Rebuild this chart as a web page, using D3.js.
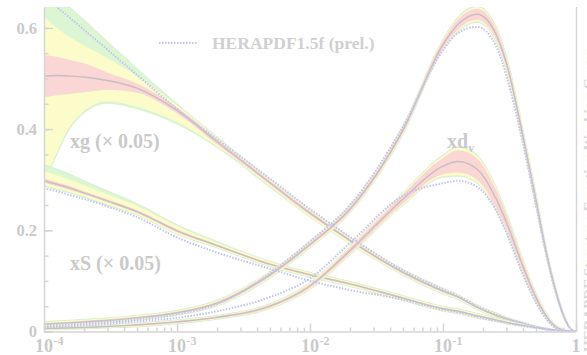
<!DOCTYPE html>
<html><head><meta charset="utf-8">
<script src="https://cdn.jsdelivr.net/npm/d3@7"></script>
<style>html,body{margin:0;padding:0;background:#fff;overflow:hidden}
text{font-family:"Liberation Serif","Times New Roman",serif;font-weight:bold}</style>
</head><body><svg id="c" width="587" height="355"></svg>
<script>
// x grid
const X = [1e-4,1.25e-4,1.5e-4,2e-4,3e-4,5e-4,1e-3,2e-3,5e-3,0.01,0.02,0.05,0.1,0.13,0.18,0.25,0.3,0.4,0.5,0.6,0.7,0.8,0.9,0.95,1];
// xu_v
const uvC   = [.015,.016,.017,.019,.022,.027,.037,.056,.112,.172,.242,.398,.567,.607,.627,.588,.53,.385,.26,.155,.083,.034,.007,.0015,0];
const uvExp = [.002,.002,.002,.002,.002,.002,.002,.003,.004,.004,.005,.006,.008,.010,.011,.011,.010,.010,.009,.007,.005,.003,.001,0,0];
const uvMod = [.002,.002,.002,.002,.002,.002,.002,.002,.002,.002,.002,.002,.002,.003,.003,.003,.003,.003,.003,.002,.002,.001,.001,0,0];
const uvPar = [.001,.001,.001,.001,.001,.001,.001,.001,.001,.001,.001,.001,.001,.002,.002,.002,.002,.002,.002,.001,.001,.001,0,0,0];
const uvDot = [.012,.013,.014,.016,.019,.024,.034,.054,.115,.178,.25,.405,.556,.59,.602,.565,.505,.37,.25,.15,.08,.033,.007,.0015,0];
// xd_v
const dvC   = [.006,.0065,.007,.008,.010,.013,.019,.028,.05,.09,.16,.262,.327,.336,.321,.263,.216,.128,.067,.03,.01,.003,.0005,.0001,0];
const dvExp = [.001,.001,.001,.001,.001,.002,.002,.002,.003,.004,.006,.009,.016,.022,.021,.018,.015,.011,.007,.004,.002,.001,0,0,0];
const dvMod = [.001,.001,.001,.001,.001,.001,.001,.001,.001,.002,.002,.003,.004,.005,.005,.004,.003,.003,.002,.002,.001,.001,0,0,0];
const dvPar = [.001,.001,.001,.001,.001,.001,.001,.001,.001,.001,.001,.001,.002,.002,.002,.002,.002,.001,.001,.001,.001,0,0,0,0];
const dvDot = [.009,.0095,.01,.012,.015,.02,.027,.04,.068,.105,.175,.268,.293,.298,.286,.24,.195,.112,.057,.024,.007,.002,.0003,0,0];
// xS (x 0.05)
const sC     = [.298,.291,.285,.274,.258,.237,.199,.17,.133,.112,.094,.066,.045,.04,.031,.023,.018,.012,.008,.005,.003,.0015,.0005,.0002,0];
const sExp   = [.004,.004,.004,.003,.003,.003,.003,.002,.002,.002,.002,.002,.002,.002,.002,.001,.001,.001,.001,0,0,0,0,0,0];
const sModUp = [.015,.014,.013,.012,.01,.008,.006,.004,.003,.002,.002,.002,.002,.002,.002,.002,.002,.001,.001,.001,0,0,0,0,0];
const sModDn = [.005,.005,.004,.004,.004,.003,.003,.002,.002,.002,.002,.002,.002,.002,.002,.001,.001,.001,.001,0,0,0,0,0,0];
const sParUp = [.013,.012,.011,.009,.007,.005,.003,.002,.001,.001,.001,.001,.001,.001,.001,.001,.001,.001,0,0,0,0,0,0,0];
const sParDn = [.002,.002,.002,.002,.002,.001,.001,.001,.001,.001,.001,.001,.001,.001,.001,.001,.001,0,0,0,0,0,0,0,0];
const sDot   = [.283,.277,.271,.262,.247,.226,.186,.156,.124,.1,.082,.063,.043,.038,.029,.021,.017,.011,.007,.004,.002,.001,.0003,0,0];
// xg (x 0.05)
const gC     = [.505,.506,.505,.503,.496,.481,.437,.375,.294,.234,.18,.117,.08,.068,.048,.032,.025,.016,.009,.005,.0025,.001,.0003,.0001,0];
const gExpUp = [.041,.037,.033,.027,.016,.009,.006,.005,.004,.004,.003,.003,.003,.002,.002,.002,.002,.001,.001,.001,0,0,0,0,0];
const gExpDn = [.042,.039,.036,.03,.018,.009,.006,.005,.004,.004,.003,.003,.003,.002,.002,.002,.002,.001,.001,.001,0,0,0,0,0];
const gModUp = [.076,.057,.047,.035,.028,.015,.004,.003,.002,.002,.002,.002,.002,.002,.002,.002,.001,.001,.001,0,0,0,0,0,0];
const gModDn = [.169,.113,.072,.037,.023,.028,.017,.004,.003,.003,.003,.002,.002,.002,.002,.001,.001,.001,.001,0,0,0,0,0,0];
const gParUp = [.068,.065,.06,.051,.033,.015,.003,.002,.001,.001,.001,.001,.001,.001,.001,.001,.001,0,0,0,0,0,0,0,0];
const gParDn = [.004,.004,.004,.004,.004,.004,.004,.002,.002,.001,.001,.001,.001,.001,.001,.001,.001,0,0,0,0,0,0,0,0];
const gDot   = [.662,.641,.624,.596,.557,.507,.44,.38,.302,.242,.187,.121,.083,.07,.05,.034,.026,.017,.0095,.005,.0025,.001,.0003,.0001,0];

const yTicks = [0, 0.2, 0.4, 0.6];
const yMinor = d3.range(0, 0.64, 0.05);
const xMajor = [1e-4, 1e-3, 1e-2, 1e-1, 1];
const xMajorLabels = [["10","-4"],["10","-3"],["10","-2"],["10","-1"],["1",""]];
const legendLabel = "HERAPDF1.5f (prel.)";
const sideLabel = "HERAPDF Structure Function Working Group";

const pdfs = [
  {c:gC, eu:gExpUp, ed:gExpDn, mu:gModUp, md:gModDn, pu:gParUp, pd:gParDn, dot:gDot},
  {c:sC, eu:sExp, ed:sExp, mu:sModUp, md:sModDn, pu:sParUp, pd:sParDn, dot:sDot},
  {c:dvC, eu:dvExp, ed:dvExp, mu:dvMod, md:dvMod, pu:dvPar, pd:dvPar, dot:dvDot},
  {c:uvC, eu:uvExp, ed:uvExp, mu:uvMod, md:uvMod, pu:uvPar, pd:uvPar, dot:uvDot}
];

const svg = d3.select("#c");
const L = 44, R = 576, T = 7, B = 331.5;
const xScale = d3.scaleLog().domain([1e-4, 1]).range([L, R]);
const yScale = d3.scaleLinear().domain([0, 0.6413]).range([B, T]);

svg.append("defs").append("clipPath").attr("id","pc").append("rect")
  .attr("x",L).attr("y",T).attr("width",R-L).attr("height",B-T);
const plot = svg.append("g").attr("clip-path","url(#pc)");

const idx = d3.range(X.length);
function band(lo, hi){
  return d3.area().curve(d3.curveMonotoneX)
    .x(i=>xScale(X[i])).y0(i=>yScale(lo(i))).y1(i=>yScale(hi(i)))(idx);
}
const lineOf = arr => d3.line().curve(d3.curveMonotoneX).x(i=>xScale(X[i])).y(i=>yScale(arr[i]))(idx);

pdfs.forEach(p=>{
  const eH=i=>p.c[i]+p.eu[i], eL=i=>p.c[i]-p.ed[i];
  const mH=i=>eH(i)+p.mu[i], mL=i=>eL(i)-p.md[i];
  const tH=i=>mH(i)+p.pu[i], tL=i=>mL(i)-p.pd[i];
  plot.append("path").attr("d",band(tL,tH)).attr("fill","#dcf5d2").attr("stroke","#d2efc6").attr("stroke-width",0.8);
  plot.append("path").attr("d",band(mL,mH)).attr("fill","#fcfccb");
  plot.append("path").attr("d",band(eL,eH)).attr("fill","#fad6d4");
  plot.append("path").attr("d",lineOf(p.c)).attr("fill","none").attr("stroke","#c9bec2").attr("stroke-width",1.4);
});
const dotCol = "#c2c2f6";
pdfs.forEach(p=>{
  plot.append("path").attr("d",lineOf(p.dot)).attr("fill","none").attr("stroke",dotCol)
    .attr("stroke-width",2).attr("stroke-dasharray","1.5,1.5");
});

const axCol = "#d5d5d5", txCol = "#cacaca";
// y axis
const yAx = svg.append("g").attr("transform",`translate(${L},0)`)
  .call(d3.axisLeft(yScale).tickValues(yTicks).tickSizeInner(-9).tickSizeOuter(0).tickPadding(7)
    .tickFormat(d=>d===0?"0":d3.format(".1f")(d)));
svg.append("g").attr("transform",`translate(${L},0)`)
  .call(d3.axisLeft(yScale).tickValues(yMinor).tickSizeInner(-4.5).tickSizeOuter(0).tickFormat(""))
  .call(g=>g.select(".domain").remove());
// x axis
svg.append("g").attr("transform",`translate(0,${B})`)
  .call(d3.axisBottom(xScale).tickValues(xMajor).tickSizeInner(-8).tickSizeOuter(0).tickFormat(""));
const xMinor = [];
for (let e=-4;e<0;e++) for (let k=2;k<=9;k++) xMinor.push(k*Math.pow(10,e));
svg.append("g").attr("transform",`translate(0,${B})`)
  .call(d3.axisBottom(xScale).tickValues(xMinor).tickSizeInner(-4).tickSizeOuter(0).tickFormat(""))
  .call(g=>g.select(".domain").remove());
svg.selectAll(".domain,.tick line").attr("stroke",axCol).attr("stroke-width",1.5);
yAx.selectAll("text").attr("fill",txCol).attr("font-size",16.5).attr("font-family","Liberation Serif").attr("font-weight","bold");

xMajor.forEach((v,i)=>{
  svg.append("text").attr("x",xScale(v)).attr("y",352).attr("text-anchor","middle")
    .attr("fill",txCol).attr("font-size",18).text(xMajorLabels[i][0]);
  if (xMajorLabels[i][1]) svg.append("text").attr("x",xScale(v)+9.5).attr("y",345).attr("fill",txCol)
    .attr("font-size",12).text(xMajorLabels[i][1]);
});
// right frame
svg.append("line").attr("x1",R+0.5).attr("x2",R+0.5).attr("y1",T).attr("y2",B).attr("stroke",axCol).attr("stroke-width",1.5);

// legend
svg.append("line").attr("x1",159).attr("x2",198).attr("y1",43).attr("y2",43)
  .attr("stroke",dotCol).attr("stroke-width",2).attr("stroke-dasharray","1.5,1.5");
svg.append("text").attr("x",212).attr("y",49).attr("fill","#d0d0d0").attr("font-size",17.5).text(legendLabel);

// labels
svg.append("text").attr("x",70).attr("y",148).attr("fill",txCol).attr("font-size",20).text("xg (× 0.05)");
svg.append("text").attr("x",70).attr("y",270).attr("fill",txCol).attr("font-size",20).text("xS (× 0.05)");
const dl = svg.append("text").attr("x",447).attr("y",148).attr("fill",txCol).attr("font-size",20).text("xd");
dl.append("tspan").attr("font-size",12).attr("dy",4).text("v");

svg.append("text").attr("transform","translate(594,352) rotate(-90)").attr("fill","#d8d8d8")
  .attr("font-size",15).text(sideLabel);
</script></body></html>
